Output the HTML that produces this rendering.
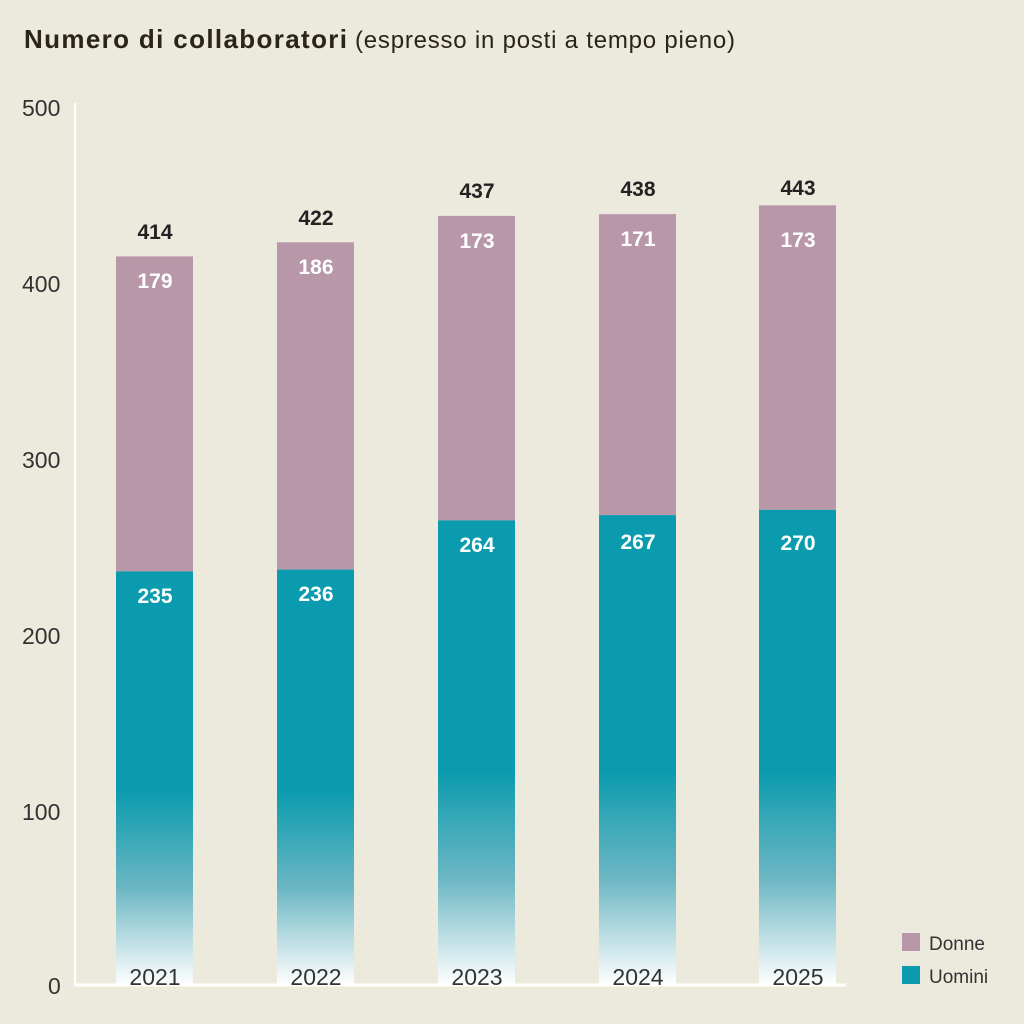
<!DOCTYPE html>
<html><head><meta charset="utf-8"><style>
html,body{margin:0;padding:0;background:#ECE9DD;}
svg{display:block;font-family:"Liberation Sans Narrow","Liberation Sans",sans-serif;}
</style></head><body>
<svg width="1024" height="1024" viewBox="0 0 1024 1024">
<defs>
<linearGradient id="g1" gradientUnits="userSpaceOnUse" x1="0" y1="790" x2="0" y2="985">
<stop offset="0" stop-color="#0A9BAE"/><stop offset="0.5" stop-color="#6BB6C3"/><stop offset="1" stop-color="#FFFFFF"/></linearGradient>
<linearGradient id="g2" gradientUnits="userSpaceOnUse" x1="0" y1="770" x2="0" y2="985">
<stop offset="0" stop-color="#0A9BAE"/><stop offset="0.5" stop-color="#6BB6C3"/><stop offset="1" stop-color="#FFFFFF"/></linearGradient>
</defs>
<rect width="1024" height="1024" fill="#ECE9DD"/>
<text x="24" y="48" font-size="26" font-weight="bold" fill="#2A2516" font-family="Liberation Sans, sans-serif" textLength="323">Numero di collaboratori</text>
<text x="355" y="48" font-size="24" fill="#2A2516" font-family="Liberation Sans, sans-serif" textLength="380">(espresso in posti a tempo pieno)</text>
<g font-size="23" fill="#333" font-family="Liberation Sans, sans-serif">
<text x="22" y="116">500</text><text x="22" y="292">400</text><text x="22" y="468">300</text>
<text x="22" y="644">200</text><text x="22" y="820">100</text><text x="48" y="994">0</text>
</g>
<line x1="75" y1="103" x2="75" y2="986" stroke="#fff" stroke-width="2"/>
<!-- bars -->
<rect x="116" y="256.4" width="77" height="315" fill="#B898A8"/>
<rect x="116" y="571.4" width="77" height="413.6" fill="url(#g1)"/>
<rect x="277" y="242.3" width="77" height="327.3" fill="#B898A8"/>
<rect x="277" y="569.6" width="77" height="415.4" fill="url(#g1)"/>
<rect x="438" y="215.9" width="77" height="304.5" fill="#B898A8"/>
<rect x="438" y="520.4" width="77" height="464.6" fill="url(#g2)"/>
<rect x="599" y="214.1" width="77" height="301" fill="#B898A8"/>
<rect x="599" y="515.1" width="77" height="469.9" fill="url(#g2)"/>
<rect x="759" y="205.3" width="77" height="304.5" fill="#B898A8"/>
<rect x="759" y="509.8" width="77" height="475.2" fill="url(#g2)"/>
<line x1="75" y1="985" x2="846" y2="985" stroke="#fff" stroke-width="3"/>
<g font-size="21" text-anchor="middle" fill="#fff" font-weight="bold">
<text x="155" y="288">179</text><text x="155" y="603">235</text>
<text x="316" y="274">186</text><text x="316" y="601">236</text>
<text x="477" y="248">173</text><text x="477" y="552">264</text>
<text x="638" y="246">171</text><text x="638" y="549">267</text>
<text x="798" y="247">173</text><text x="798" y="550">270</text>
</g>
<g font-size="21" text-anchor="middle" fill="#222" font-weight="bold">
<text x="155" y="239">414</text><text x="316" y="225">422</text><text x="477" y="198">437</text>
<text x="638" y="196">438</text><text x="798" y="195">443</text>
</g>
<g font-size="23" text-anchor="middle" fill="#333" font-family="Liberation Sans, sans-serif">
<text x="155" y="985">2021</text><text x="316" y="985">2022</text><text x="477" y="985">2023</text>
<text x="638" y="985">2024</text><text x="798" y="985">2025</text>
</g>
<rect x="902" y="933" width="18" height="18" fill="#B898A8"/>
<rect x="902" y="966" width="18" height="18" fill="#0A9BAE"/>
<g font-size="19" fill="#333" font-family="Liberation Sans, sans-serif">
<text x="929" y="950">Donne</text><text x="929" y="983">Uomini</text>
</g>
</svg>
</body></html>
